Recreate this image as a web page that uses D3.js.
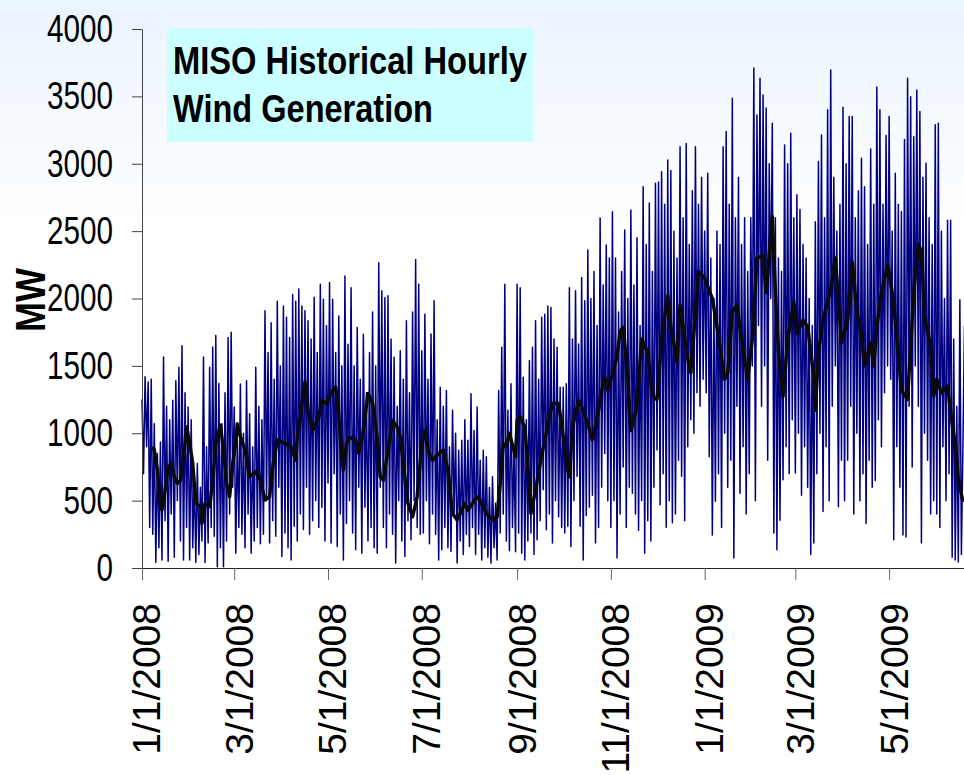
<!DOCTYPE html>
<html>
<head>
<meta charset="utf-8">
<script src="https://cdn.jsdelivr.net/npm/d3@7"></script>
<style>
  html, body { margin: 0; padding: 0; background: #fff; }
  svg { display: block; }
</style>
</head>
<body>
<svg id="chart" width="964" height="775"></svg>
<script>
// MISO hourly wind generation, Jan 2008 - Jun 2009
// hourly series read off the picture as one swing (high / low) per day

const firstDay = "1/1/2008";

const jan08 = [1250, 700, 1420, 900, 1380, 300, 1400, 250, 1070, 40, 850, 150, 935, 60, 1565, 350, 1200, 50, 1100, 400, 1245, 80, 1390, 500, 1490, 200, 1650, 60, 1300, 300, 1195];
const feb08 = [60, 1100, 150, 700, 40, 775, 100, 600, 200, 1565, 40, 900, 185, 1490, 300, 1640, 235, 1725, 10, 1370, 150, 1070, 10, 1300, 200, 1710, 400, 1750, 600];
const mar08 = [1195, 110, 970, 300, 1365, 250, 1000, 150, 1390, 400, 1145, 110, 900, 200, 1490, 300, 1200, 180, 1100, 250, 1910, 500, 1600, 185, 1820, 350, 1400, 235, 1980, 600, 1500];
const apr08 = [85, 1945, 260, 1860, 150, 1710, 60, 2030, 310, 1980, 200, 2070, 400, 1945, 285, 1910, 600, 1835, 250, 1700, 350, 2010, 500, 1600, 300, 2105, 450, 1995, 200, 1800];
const may08 = [630, 2118, 185, 1995, 700, 1600, 160, 1870, 400, 1500, 60, 2167, 330, 1660, 500, 2080, 260, 1500, 135, 1785, 600, 1400, 110, 1735, 450, 1300, 200, 1600, 300, 1900, 150];
const jun08 = [1500, 110, 2266, 600, 2057, 300, 2007, 150, 2020, 400, 1700, 250, 1564, 37, 1200, 500, 1613, 200, 1400, 86, 1835, 350, 1300, 210, 1900, 500, 2290, 300, 2105, 250];
const jul08 = [1613, 260, 1884, 500, 1400, 180, 1736, 400, 1983, 250, 1100, 60, 1342, 135, 1200, 300, 1317, 150, 900, 123, 1170, 400, 1000, 37, 874, 200, 948, 100, 1100, 250, 948];
const aug08 = [160, 1293, 300, 1020, 100, 1195, 250, 800, 60, 874, 150, 825, 80, 600, 37, 677, 150, 480, 60, 1317, 260, 1638, 400, 2105, 200, 1170, 130, 1367, 300, 900, 120];
const sep08 = [2105, 260, 2080, 110, 1416, 60, 1100, 200, 1539, 260, 1638, 100, 1835, 210, 1400, 350, 1860, 580, 1884, 283, 1945, 400, 1933, 185, 1700, 500, 1638, 380, 1342, 300];
const oct08 = [1342, 260, 1367, 310, 2080, 160, 1700, 500, 2057, 680, 1662, 310, 2155, 60, 1983, 390, 2360, 450, 2000, 540, 2200, 185, 1800, 300, 2597, 600, 2100, 850, 2397, 500, 2300];
const nov08 = [300, 2643, 500, 2300, 75, 1900, 400, 2200, 750, 2508, 300, 2000, 600, 2657, 555, 2100, 400, 2450, 280, 1800, 500, 2830, 110, 2400, 350, 2708, 200, 2200, 600, 2855];
const dec08 = [875, 2865, 470, 2940, 700, 2700, 300, 3028, 500, 2950, 335, 2500, 400, 2300, 800, 3126, 680, 2600, 350, 3150, 900, 2400, 1100, 2800, 1000, 3126, 1300, 2700, 1200, 2900, 1400];
const jan09 = [2500, 1300, 2930, 825, 2300, 245, 2000, 495, 2500, 700, 2400, 300, 3126, 1000, 3240, 600, 2700, 800, 3486, 75, 2600, 1200, 2900, 555, 2400, 900, 2600, 400, 2200, 700, 2600];
const feb09 = [1500, 3710, 500, 3361, 1800, 3634, 1200, 3510, 1500, 3413, 800, 3000, 2000, 3300, 260, 2600, 135, 2300, 355, 2200, 655, 3139, 900, 3000, 700, 3226, 1100, 2600];
const mar09 = [705, 2770, 1000, 2660, 540, 2400, 900, 2300, 600, 2000, 100, 1800, 185, 2570, 700, 3016, 1000, 3213, 420, 2600, 900, 3400, 500, 3695, 1200, 2900, 1500, 2500, 455, 2700, 800];
const apr09 = [3420, 500, 3000, 800, 3350, 1200, 3350, 400, 2600, 1000, 2800, 500, 3040, 700, 2830, 330, 2400, 800, 3110, 600, 2700, 650, 3570, 1100, 3400, 900, 2700, 1300, 3210, 1500];
const may09 = [3350, 1400, 2500, 210, 2930, 900, 2700, 600, 2645, 245, 3180, 230, 3634, 1200, 3498, 750, 3200, 1500, 3548, 1200, 3388, 185, 2900, 1000, 3003, 800, 2600, 400, 2400, 500, 3289];
const jun09 = [400, 3300, 300, 2500, 900, 2000, 500, 2580, 700, 2580, 80, 1700, 60, 1200, 45, 1990, 100, 900, 1800];

// black line: running average, day offsets from 1/1/2008 and MW
const maDay = [7, 8, 10, 12, 13, 15, 17, 19, 21, 23, 25, 28, 29, 31, 33, 35, 38, 39, 41, 44,
  46, 48, 51, 53, 55, 57, 59, 61, 62, 64, 67, 70, 74, 77, 80, 83, 85, 88, 93, 97,
  100, 101, 103, 106, 108, 111, 115, 117, 120, 124, 126, 128, 130, 131, 133, 135, 139, 141, 144, 147,
  150, 153, 155, 157, 160, 163, 166, 168, 170, 173, 176, 179, 182, 184, 186, 189, 193, 196, 199, 202,
  205, 207, 210, 212, 215, 218, 221, 224, 228, 231, 233, 235, 237, 239, 243, 244, 246, 249, 251, 253,
  256, 259, 262, 265, 267, 271, 274, 277, 278, 280, 284, 287, 290, 293, 297, 299, 301, 303, 306, 309,
  311, 313, 316, 318, 322, 325, 329, 332, 335, 338, 342, 344, 348, 350, 355, 357, 361, 362, 366, 371,
  375, 379, 381, 384, 387, 390, 394, 397, 400, 404, 406, 410, 412, 414, 417, 420, 424, 426, 430, 433,
  437, 438, 440, 443, 448, 451, 453, 455, 459, 462, 465, 468, 470, 474, 476, 478, 481, 485, 488, 491,
  494, 498, 500, 502, 505, 507, 509, 513, 515, 517, 520, 524, 527, 529, 531, 534];
const maMW = [900, 875, 727, 480, 430, 580, 750, 775, 677, 628, 650, 925, 1047, 925, 775, 480, 455, 330, 480, 455,
  650, 925, 1060, 875, 628, 530, 775, 925, 1070, 975, 875, 677, 715, 650, 505, 530, 750, 950, 925, 900,
  800, 975, 1120, 1380, 1170, 1020, 1120, 1245, 1220, 1318, 1342, 1120, 825, 727, 925, 970, 950, 850, 1020, 1295,
  1220, 970, 677, 650, 875, 1095, 1045, 970, 775, 480, 380, 530, 925, 1020, 875, 800, 850, 875, 727, 405,
  357, 405, 480, 430, 480, 530, 480, 405, 357, 380, 628, 925, 900, 1000, 825, 1095, 1120, 1045, 750, 405,
  580, 775, 950, 1120, 1220, 1220, 975, 727, 677, 1045, 1245, 1170, 1070, 950, 1170, 1318, 1415, 1318, 1440, 1565,
  1760, 1785, 1415, 1020, 1200, 1700, 1600, 1275, 1250, 1700, 2020, 1800, 1525, 1950, 1550, 1450, 2045, 2200, 2150, 2000,
  1720, 1400, 1450, 1900, 1950, 1700, 1400, 1700, 2300, 2320, 2045, 2610, 2045, 1600, 1275, 1700, 1970, 1740, 1840, 1790,
  1420, 1170, 1600, 1840, 2070, 2300, 2000, 1670, 1840, 2270, 1900, 1740, 1500, 1670, 1500, 1790, 2045, 2250, 2045, 1720,
  1320, 1250, 1650, 2045, 2400, 2350, 1860, 1650, 1275, 1400, 1300, 1350, 1070, 920, 665, 490];

const yTicks = [0, 500, 1000, 1500, 2000, 2500, 3000, 3500, 4000];
const xTickLabels = ["1/1/2008", "3/1/2008", "5/1/2008", "7/1/2008", "9/1/2008", "11/1/2008", "1/1/2009", "3/1/2009", "5/1/2009"];
const titleLines = ["MISO Historical Hourly", "Wind Generation"];
const yTitle = "MW";

const WIDTH = 964;
const HEIGHT = 775;
const FONT = "'Liberation Sans', Arial, Helvetica, sans-serif";

const svg = d3.select("#chart");

// pale blue wash at the top of the slide
const grad = svg.append("defs").append("linearGradient")
  .attr("id", "bg").attr("x1", 0).attr("y1", 0).attr("x2", 0).attr("y2", 1);
grad.append("stop").attr("offset", "0%").attr("stop-color", "#eaf4fe");
grad.append("stop").attr("offset", "30%").attr("stop-color", "#ffffff");
svg.append("rect").attr("width", WIDTH).attr("height", HEIGHT).attr("fill", "url(#bg)");

const parseDate = d3.utcParse("%m/%d/%Y");
const start = parseDate(firstDay);
const dayDate = k => d3.utcHour.offset(start, Math.round(k * 24));

const hourlyMW = [].concat(jan08, feb08, mar08, apr08, may08, jun08, jul08, aug08, sep08,
  oct08, nov08, dec08, jan09, feb09, mar09, apr09, may09, jun09);

const x = d3.scaleUtc()
  .domain([start, d3.utcDay.offset(start, 536)])
  .range([142, 966]);
const y = d3.scaleLinear().domain([0, 4000]).range([568, 29]);

// hourly wind (navy)
const windLine = d3.line()
  .x((d, i) => x(dayDate(i)))
  .y(d => y(d));

svg.append("path")
  .datum(hourlyMW)
  .attr("fill", "none")
  .attr("stroke", "#000080")
  .attr("stroke-width", 1.5)
  .attr("stroke-linejoin", "round")
  .attr("d", windLine);

// running average (black)
const maLine = d3.line()
  .x((d, i) => x(dayDate(maDay[i])))
  .y(d => y(d));

svg.append("path")
  .datum(maMW)
  .attr("fill", "none")
  .attr("stroke", "#0a0a0a")
  .attr("stroke-width", 3.5)
  .attr("stroke-linejoin", "round")
  .attr("d", maLine);

// y axis
const yAxis = svg.append("g")
  .attr("transform", "translate(142,0)")
  .call(d3.axisLeft(y).tickValues(yTicks).tickFormat(d3.format("d"))
    .tickSize(10).tickPadding(19).tickSizeOuter(0));
yAxis.select(".domain").attr("stroke", "#444");
yAxis.selectAll(".tick line").attr("stroke", "#444");
yAxis.selectAll(".tick text")
  .attr("font-family", FONT)
  .attr("font-size", 39)
  .attr("fill", "#000")
  .attr("textLength", d => 16.5 * String(d).length)
  .attr("lengthAdjust", "spacingAndGlyphs");

// x axis
const tickDates = xTickLabels.map(parseDate);
const xAxis = svg.append("g")
  .attr("transform", "translate(0,568)")
  .call(d3.axisBottom(x).tickValues(tickDates).tickFormat((d, i) => xTickLabels[i])
    .tickSize(12).tickSizeOuter(0));
xAxis.select(".domain").attr("stroke", "#222");
xAxis.selectAll(".tick line").attr("stroke", "#666");
xAxis.selectAll(".tick text")
  .attr("font-family", FONT)
  .attr("font-size", 39)
  .attr("fill", "#000")
  .attr("transform", "rotate(-90)")
  .attr("text-anchor", "end")
  .attr("x", -35)
  .attr("y", 0)
  .attr("dy", "0.46em");

// axis title
svg.append("text")
  .attr("transform", "translate(45,300) rotate(-90)")
  .attr("text-anchor", "middle")
  .attr("font-family", FONT)
  .attr("font-weight", "bold")
  .attr("font-size", 42)
  .attr("textLength", 64)
  .attr("lengthAdjust", "spacingAndGlyphs")
  .text(yTitle);

// title box
svg.append("rect")
  .attr("x", 167).attr("y", 28)
  .attr("width", 366).attr("height", 114)
  .attr("fill", "#ccffff");

const titleLen = [354, 260];
svg.append("g").selectAll("text")
  .data(titleLines)
  .join("text")
  .attr("x", 173)
  .attr("y", (d, i) => 74 + i * 48)
  .attr("font-family", FONT)
  .attr("font-weight", "bold")
  .attr("font-size", 39)
  .attr("fill", "#000")
  .attr("textLength", (d, i) => titleLen[i])
  .attr("lengthAdjust", "spacingAndGlyphs")
  .text(d => d);
</script>
</body>
</html>
